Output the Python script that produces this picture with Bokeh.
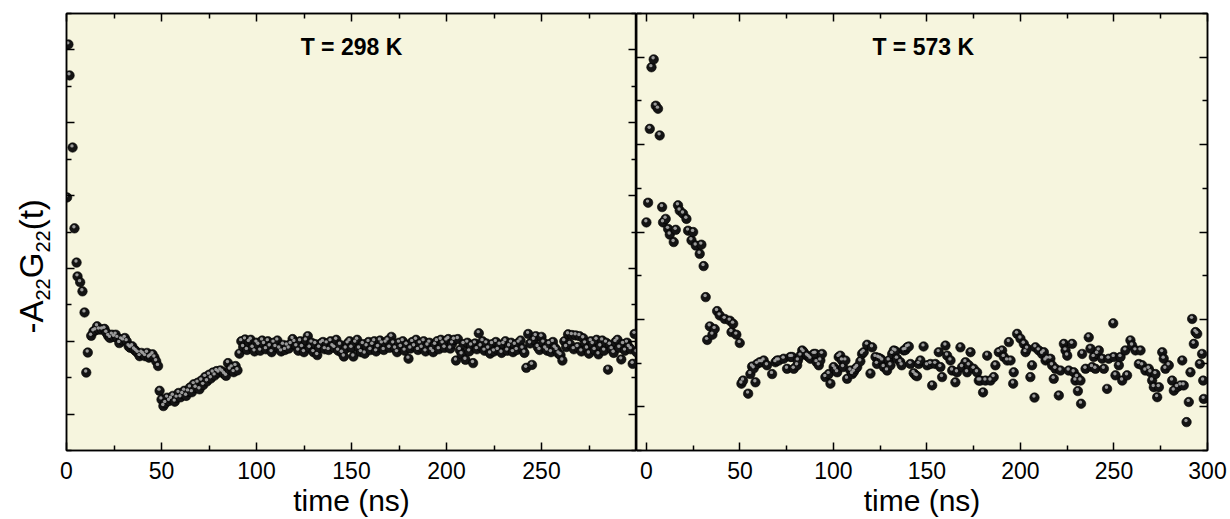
from bokeh.plotting import figure
from bokeh.models import Range1d, LinearAxis, FixedTicker, Label, ColumnDataSource, CustomJSTickFormatter
from bokeh.core.properties import value
from bokeh.transform import dodge
from bokeh.layouts import row
from bokeh.embed import file_html
from bokeh.resources import INLINE

# ---------------- data (y in arbitrary units) ----------------
# T = 298 K panel
early_298 = [(0.3, 6.95), (1.0, 11.15), (1.6, 10.3), (3.2, 8.32), (4.2, 6.10), (5.3, 5.16),
             (5.8, 4.78), (7.2, 4.62), (8.4, 4.37), (9.5, 3.79), (10.4, 2.14), (11.2, 2.69)]
decay_298 = [(13.0, 3.15), (14.2, 3.27), (15.2, 3.30), (16.1, 3.41), (17.1, 3.32), (18.7, 3.32),
             (20.0, 3.34), (21.0, 3.23), (22.0, 3.14), (22.9, 3.09), (23.9, 3.18), (25.0, 3.12),
             (25.9, 3.18), (26.8, 3.09), (27.8, 2.95), (28.8, 3.05), (29.8, 3.02), (30.7, 3.09),
             (31.7, 3.00), (32.7, 2.86), (33.6, 2.82), (34.6, 2.86), (35.6, 2.77), (36.5, 2.73),
             (37.5, 2.68), (38.5, 2.59), (39.5, 2.68), (40.4, 2.64), (41.4, 2.59), (42.4, 2.68),
             (43.4, 2.55), (44.3, 2.59), (45.3, 2.64), (46.3, 2.55), (47.2, 2.45), (48.2, 2.32)]
dip_298_t = list(range(49, 91))
dip_298_v = [1.64, 1.40, 1.22, 1.30, 1.45, 1.36, 1.42, 1.50, 1.34, 1.45,
             1.58, 1.46, 1.55, 1.64, 1.50, 1.62, 1.73, 1.60, 1.82, 1.72,
             1.86, 1.68, 1.92, 1.80, 2.02, 1.90, 2.08, 1.98, 2.14, 2.06,
             2.18, 2.14, 2.20, 2.16, 2.10, 2.05, 2.40, 2.22, 2.28, 2.15,
             2.32, 2.20]
plateau_298_t = list(range(91, 301))
plateau_298_v = [2.66, 3.00, 2.84, 3.05, 2.76, 2.98, 3.04, 2.82, 2.72, 2.96,
                 2.90, 2.74, 3.02, 2.92, 2.78, 3.00, 2.86, 2.70, 2.96, 2.84,
                 3.02, 2.80, 2.72, 2.90, 2.76, 2.88, 2.80, 2.92, 3.06, 2.98,
                 2.86, 2.74, 3.00, 2.84, 2.70, 3.02, 3.14, 2.82, 2.96, 2.70,
                 2.92, 2.62, 2.82, 2.94, 2.98, 2.78, 2.94, 2.76, 3.00, 2.86,
                 2.82, 3.04, 2.74, 2.90, 2.68, 2.58, 2.80, 2.94, 3.00, 2.82,
                 2.58, 2.96, 3.04, 2.80, 2.70, 2.92, 2.66, 2.86, 2.98, 2.76,
                 2.90, 3.00, 2.72, 2.84, 3.02, 2.94, 2.76, 2.96, 3.02, 2.82,
                 3.12, 2.94, 2.80, 2.70, 2.96, 2.84, 3.00, 2.74, 2.90, 2.52,
                 2.80, 2.98, 2.86, 3.04, 2.76, 2.94, 2.82, 3.00, 2.72, 2.88,
                 2.96, 2.76, 2.70, 2.90, 3.00, 2.78, 3.04, 2.94, 2.82, 3.02,
                 3.06, 2.80, 2.94, 3.04, 2.47, 3.06, 2.76, 2.64, 2.92, 2.49,
                 2.96, 2.72, 2.88, 2.40, 2.94, 2.78, 3.22, 2.86, 3.00, 2.74,
                 2.94, 2.80, 2.66, 2.92, 2.72, 2.98, 2.76, 2.90, 2.68, 2.92,
                 3.00, 2.74, 2.86, 2.96, 2.70, 2.90, 2.76, 2.96, 3.02, 2.80,
                 2.68, 2.27, 3.20, 2.94, 2.35, 3.04, 3.14, 2.84, 2.76, 3.12,
                 2.96, 2.80, 2.74, 2.92, 2.70, 2.98, 2.82, 2.76, 2.66, 2.62,
                 2.47, 3.00, 2.84, 3.19, 2.92, 3.17, 2.78, 3.16, 2.84, 3.14,
                 2.72, 3.08, 2.94, 2.80, 2.66, 3.00, 2.92, 2.76, 3.04, 2.64,
                 2.86, 3.02, 2.74, 2.96, 2.22, 2.90, 2.78, 2.68, 2.98, 3.04,
                 2.82, 2.50, 2.92, 2.74, 2.96, 2.84, 2.78, 2.38, 3.20, 2.70]

# T = 573 K panel
pts_573 = [(0.0, 5.22), (0.9, 5.67), (1.8, 7.36), (2.7, 8.77), (3.9, 8.95), (5.0, 7.89),
           (6.2, 7.82), (7.1, 7.21), (8.4, 5.57), (8.9, 5.22), (10.3, 5.30), (11.6, 5.07),
           (12.5, 4.94), (14.6, 4.77), (15.7, 5.05), (16.9, 5.61), (17.8, 5.49), (19.6, 5.42),
           (21.4, 5.30), (22.3, 5.03), (24.1, 4.81), (25.0, 5.00), (26.4, 4.69), (28.5, 4.50),
           (29.4, 4.71), (30.6, 4.22), (31.7, 3.51), (32.5, 2.53), (33.9, 2.84), (35.3, 2.65),
           (36.5, 2.78), (37.8, 3.19), (39.2, 3.09), (41.9, 3.01), (44.6, 2.97), (45.5, 2.71),
           (46.4, 2.90), (48.1, 2.65), (49.9, 2.46),
           (50.8, 1.53), (51.7, 1.60), (54.4, 1.30), (55.6, 1.75), (56.5, 1.92), (57.4, 1.88),
           (58.3, 1.56), (59.2, 1.98), (60.6, 2.02), (61.8, 2.02), (62.7, 2.06), (64.5, 1.95),
           (67.2, 1.75), (69.0, 2.02), (69.9, 2.06), (70.8, 2.06), (73.4, 2.10), (75.2, 1.87),
           (77.0, 2.14), (77.9, 2.14), (78.8, 1.87), (80.6, 1.95), (81.0, 2.06), (82.4, 2.17),
           (83.3, 2.29), (84.1, 2.25), (85.9, 2.17), (86.8, 2.14), (87.7, 2.10), (89.5, 2.21),
           (90.4, 2.21), (91.0, 2.02), (92.2, 1.95), (93.0, 2.06), (93.9, 2.21), (95.7, 1.68),
           (97.5, 1.75), (98.4, 1.53), (100.1, 1.91), (101.0, 1.85), (102.0, 1.79), (102.8, 2.14),
           (103.7, 2.17), (104.6, 2.06), (105.2, 1.91), (106.4, 2.06), (107.3, 1.64), (109.1, 1.83),
           (110.0, 1.75), (110.9, 1.80), (111.8, 1.87), (112.7, 1.91), (114.4, 2.04), (115.3, 2.21),
           (116.2, 2.25), (118.0, 2.42), (119.8, 1.76), (120.7, 2.36), (122.5, 2.14), (123.3, 1.98),
           (124.0, 2.12), (125.1, 2.10), (126.1, 2.06), (126.9, 1.91), (128.7, 1.83), (129.6, 2.06),
           (130.5, 1.95), (131.4, 2.21), (132.3, 2.29), (133.2, 2.27), (134.0, 2.10), (135.8, 2.02),
           (136.5, 1.95), (137.6, 2.29), (138.5, 2.30), (139.4, 2.36), (140.3, 2.38), (141.2, 1.98),
           (142.9, 1.77), (143.9, 1.72), (144.7, 1.70), (145.6, 1.98), (146.5, 2.06), (148.2, 2.38),
           (150.1, 1.95), (151.9, 1.98), (152.8, 1.49), (154.5, 1.98), (156.3, 2.25), (157.2, 1.91),
           (158.1, 1.68), (159.9, 2.40), (160.8, 2.17), (162.6, 2.06), (163.5, 1.83), (165.2, 1.56),
           (166.1, 1.79), (167.9, 2.36), (168.8, 1.91), (170.6, 2.02), (171.5, 1.79), (172.4, 1.95),
           (173.3, 2.25), (175.0, 1.87), (176.8, 1.79), (177.7, 1.60), (178.6, 1.60), (180.0, 1.33),
           (181.3, 1.60), (182.2, 2.17), (184.0, 1.60), (185.7, 1.68), (186.6, 1.95), (188.4, 2.25),
           (190.2, 2.29), (191.1, 2.14), (192.9, 2.06), (193.8, 2.48), (194.7, 2.06), (196.1, 1.53),
           (196.4, 1.79), (198.2, 2.67), (200.0, 2.56), (201.8, 2.44), (202.7, 2.25), (203.6, 2.33),
           (205.3, 1.68), (206.2, 1.95), (207.5, 1.21), (208.0, 2.36), (209.8, 2.29), (211.6, 2.21),
           (212.5, 2.25), (213.4, 2.06), (214.3, 2.10), (216.0, 2.10), (216.9, 1.95), (217.8, 1.64),
           (218.7, 1.87), (220.5, 1.26), (221.4, 1.83), (223.2, 2.44), (224.1, 2.29), (225.0, 2.17),
           (225.8, 1.83), (227.6, 2.44), (228.5, 1.79), (229.4, 1.60), (230.3, 1.68), (230.7, 1.36),
           (232.1, 1.60), (232.4, 1.07), (233.0, 2.21), (234.8, 1.87), (236.5, 2.59), (237.4, 2.33),
           (238.3, 1.91), (239.2, 2.14), (240.1, 1.87), (241.0, 2.21), (241.9, 2.29), (243.7, 2.10),
           (244.6, 1.87), (246.3, 1.41), (247.2, 2.10), (249.6, 2.91), (249.9, 2.14), (250.8, 1.72),
           (252.6, 1.95), (253.5, 2.14), (254.4, 1.60), (256.1, 2.29), (257.0, 1.72), (258.8, 2.52),
           (259.7, 2.40), (261.5, 2.29), (263.3, 1.98), (264.2, 2.29), (265.1, 1.95), (266.8, 1.83),
           (268.6, 1.87), (269.5, 1.79), (270.4, 1.60), (271.3, 1.45), (272.2, 1.75), (273.1, 1.22),
           (274.0, 1.45), (275.8, 2.25), (276.6, 2.10), (277.5, 1.87), (279.3, 1.95), (281.1, 1.60),
           (282.0, 1.37), (283.8, 1.45), (285.6, 1.49), (286.5, 2.06), (287.3, 1.49), (288.8, 0.65),
           (290.0, 1.11), (290.9, 1.79), (291.8, 3.01), (292.7, 2.44), (293.6, 2.71), (294.5, 2.67),
           (295.9, 1.98), (297.1, 2.21), (297.7, 1.60), (298.0, 1.18)]

x_major = [0, 50, 100, 150, 200, 250, 300]
x_minor = [25, 75, 125, 175, 225, 275]
titles = ["T = 298 K", "T = 573 K"]
xlabel = "time (ns)"
ylabel_parts = ["-A", "22", "G", "22", "(t)"]   # subscripts at positions 1 and 3

t298 = [p[0] for p in early_298 + decay_298] + dip_298_t + plateau_298_t
v298 = [p[1] for p in early_298 + decay_298] + dip_298_v + plateau_298_v
t573 = [p[0] for p in pts_573]
v573 = [p[1] for p in pts_573]

FONT = "Liberation Sans"
BG = "#f6f5de"


def style_axis(ax, ticker, labels):
    ax.ticker = ticker
    ax.axis_line_width = 1.5
    ax.axis_line_color = "black"
    ax.major_tick_in = 8
    ax.major_tick_out = 0
    ax.minor_tick_in = 5
    ax.minor_tick_out = 0
    ax.major_tick_line_width = 1.5
    ax.minor_tick_line_width = 1.5
    if labels:
        ax.major_label_text_font = FONT
        ax.major_label_text_font_size = "23px"
        ax.major_label_standoff = 11
        ax.major_label_text_color = "black"
        ax.axis_label = xlabel
        ax.axis_label_text_font = FONT
        ax.axis_label_text_font_size = "30px"
        ax.axis_label_text_font_style = "normal"
        ax.axis_label_text_color = "black"
        ax.axis_label_standoff = 2
    else:
        ax.axis_label = None
        ax.formatter = CustomJSTickFormatter(code="return ''")
        ax.major_label_text_font_size = "0px"
        ax.major_label_standoff = 0


def make_panel(fw, xr, yr, border_left, border_right, xt_labels, yt, t, v, title, title_x):
    p = figure(frame_width=fw, frame_height=437, x_range=xr, y_range=yr,
               output_backend="svg", toolbar_location=None,
               x_axis_location=None, y_axis_location=None,
               min_border_left=border_left, min_border_right=border_right,
               min_border_top=13, min_border_bottom=69,
               background_fill_color=BG, border_fill_color="white",
               outline_line_color="black", outline_line_width=1.5)
    p.grid.visible = False
    below = LinearAxis()
    style_axis(below, FixedTicker(ticks=xt_labels, minor_ticks=x_minor), True)
    p.add_layout(below, "below")
    above = LinearAxis()
    style_axis(above, FixedTicker(ticks=x_major, minor_ticks=x_minor), False)
    p.add_layout(above, "above")
    left = LinearAxis()
    style_axis(left, yt, False)
    p.add_layout(left, "left")
    right = LinearAxis()
    style_axis(right, yt, False)
    p.add_layout(right, "right")

    # one screen pixel in data units (for the sphere highlight)
    px_x = (xr.end - xr.start) / fw
    px_y = (yr.end - yr.start) / 437.0
    src = ColumnDataSource(dict(t=t, v=v))
    p.scatter("t", "v", source=src, size=9.5, fill_color="#141414",
              line_color="#000000", line_width=0.6)
    p.scatter(dodge("t", -0.6 * px_x, range=xr), dodge("v", 1.6 * px_y, range=yr),
              source=src, size=3.4, fill_color="#a8a8a8", line_color=None, fill_alpha=0.9)

    p.add_layout(Label(x=title_x, y=yr.end, y_offset=-33, text=title, text_font=FONT,
                       text_font_size="23px", text_font_style="bold",
                       text_align="center", text_baseline="middle", text_color="black"))
    return p


p1 = make_panel(570, Range1d(0, 300), Range1d(0, 12), 10, 0, [0, 50, 100, 150, 200, 250],
                FixedTicker(ticks=[1, 3, 5, 7, 9, 11], minor_ticks=[0, 2, 4, 6, 8, 10, 12]),
                t298, v298, titles[0], 150)
p2 = make_panel(571, Range1d(-5.3, 300), Range1d(0, 10), 0, 23, x_major,
                FixedTicker(ticks=[1, 3, 5, 7, 9], minor_ticks=[0, 2, 4, 6, 8, 10]),
                t573, v573, titles[1], 148)

# narrow strip (56 px) holding the rotated y-axis title  -A22G22(t)
p0 = figure(frame_width=56, frame_height=519, x_range=Range1d(0, 56), y_range=Range1d(0, 519),
            output_backend="svg", toolbar_location=None,
            x_axis_location=None, y_axis_location=None,
            min_border_left=0, min_border_right=0, min_border_top=0, min_border_bottom=0,
            outline_line_color=None, background_fill_color="white", border_fill_color="white")
p0.grid.visible = False
F_MAIN, F_SUB = 33, 20
BASE_MAIN, BASE_SUB = 42, 49          # text baselines (px from the left)
advance = {"-A": 1.000, "22": 1.112, "G": 0.778, "(t)": 0.944}   # em widths (Arial metrics)
xs, ys, sizes = [], [], []
pos = 519 - 320        # starting height of the title (px from bottom)
for i, txt in enumerate(ylabel_parts):
    sub = i in (1, 3)
    fs = F_SUB if sub else F_MAIN
    base = BASE_SUB if sub else BASE_MAIN
    xs.append(base - 0.3465 * fs)     # centre of the em box, left of the baseline
    ys.append(pos)
    sizes.append(f"{fs}px")
    pos += advance[txt] * fs
p0.text(x=xs, y=ys, text=ylabel_parts, text_font=value(FONT), text_font_size=sizes,
        angle=1.5707963, text_align="left", text_baseline="middle", text_color="black")

layout = row(p0, p1, p2)
open("out.html", "w").write(file_html(layout, INLINE))
